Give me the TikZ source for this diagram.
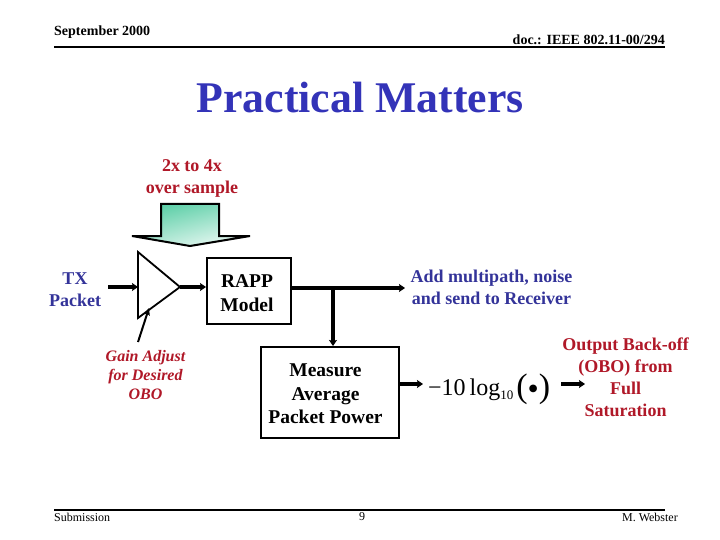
\documentclass[tikz,border=0pt]{standalone}
\usepackage{fontspec}
\setmainfont{Liberation Serif}
\usetikzlibrary{arrows.meta,calc,shadings}
\definecolor{navytext}{RGB}{51,51,153}
\definecolor{titleblue}{RGB}{51,51,184}
\definecolor{redtext}{RGB}{176,24,40}
\definecolor{tealtop}{RGB}{70,200,155}
\tikzset{
  x=1pt,y=-1pt,
  lbl/.style={inner sep=0pt,align=center,font=\bfseries\fontsize{18}{22}\selectfont},
  boxnode/.style={draw=black,line width=2pt,fill=white,inner sep=0pt},
  boxtext/.style={inner sep=0pt,align=center,font=\bfseries\fontsize{19.5}{23.7}\selectfont,text=black},
  flow/.style={draw=black,line width=3.2pt,-{Stealth[length=6pt,width=8pt,inset=1pt]}},
  thinflow/.style={draw=black,line width=2pt,-{Stealth[length=7pt,width=6pt,inset=1pt]}},
  plainlbl/.style={inner sep=0pt,font=\fontsize{12}{14}\selectfont},
  headlbl/.style={inner sep=0pt,font=\bfseries\fontsize{14}{16}\selectfont},
  rulebar/.style={line width=2pt,draw=black},
}
\begin{document}
\begin{tikzpicture}
\useasboundingbox (0,0) rectangle (720,540);
% header and footer
\coordinate (hl) at (54,47); \coordinate (hr) at (665,47);
\coordinate (fl) at (54,510); \coordinate (fr) at (665,510);
\draw[rulebar] (hl) -- (hr);
\draw[rulebar] (fl) -- (fr);
\node[headlbl,anchor=west] (date) at (54,32) {September 2000};
\node[headlbl,anchor=east] (doc) at (665,40) {doc.: IEEE 802.11-00/294};
\node[plainlbl,anchor=west] (sub) at (54,517) {Submission};
\node[plainlbl] (page) at (362,517) {9};
\node[plainlbl,anchor=east] (auth) at (678,517) {M. Webster};
\node[inner sep=0pt,text=titleblue,font=\bfseries\fontsize{43.8}{50}\selectfont] (title) at (360,98) {Practical Matters};
% block arrow
\coordinate (a1) at (161,204); \coordinate (a2) at (219,204); \coordinate (a3) at (219,236);
\coordinate (a4) at (250,236); \coordinate (a5) at (190,246); \coordinate (a6) at (132,236); \coordinate (a7) at (161,236);
\shade[upper left=tealtop,upper right=tealtop!60!white,lower left=tealtop!45!white,lower right=white]
  (a1) -- (a2) -- (a3) -- (a4) -- (a5) -- (a6) -- (a7) -- cycle;
\draw[line width=2pt,black,line join=miter] (a1) -- (a2) -- (a3) -- (a4) -- (a5) -- (a6) -- (a7) -- cycle;
% triangle
\coordinate (t1) at (138,252); \coordinate (t2) at (138,318); \coordinate (t3) at (180,287);
\draw[line width=1.8pt,black,line join=miter,fill=white] (t1) -- (t2) -- (t3) -- cycle;
% boxes
\node[boxnode,minimum width=84pt,minimum height=66pt] (rapp) at (249,291) {};
\node[boxnode,minimum width=138pt,minimum height=91pt] (meas) at (330,392.5) {};
\node[boxtext] (rapptext) at (247,293) {RAPP\\Model};
\node[boxtext] (meastext) at (325.5,394) {Measure\\Average\\Packet Power};
% connectors
\coordinate (txs) at (108,287);
\coordinate (tin) at (138,287);
\coordinate (out) at (405,288);
\coordinate (jn) at (333,288);
\coordinate (gs) at (138,342);
\coordinate (gt) at (149,308);
\coordinate (l2) at (423,384);
\coordinate (o1) at (561,384);
\coordinate (o2) at (585,384);
\draw[flow] (txs) -- (tin);
\draw[flow] (t3) -- (rapp.west |- t3);
\draw[flow] (rapp.east |- out) -- (out);
\draw[flow] (jn) -- (jn |- meas.north);
\draw[flow] (meas.east |- l2) -- (l2);
\draw[flow] (o1) -- (o2);
\draw[thinflow] (gs) -- (gt);
% labels
\node[lbl,text=redtext] (over) at (192,178) {2x to 4x\\over sample};
\node[lbl,text=navytext] (tx) at (75,290) {TX\\Packet};
\node[lbl,text=redtext,font=\bfseries\itshape\fontsize{16}{19}\selectfont] (gain) at (145.5,375) {Gain Adjust\\for Desired\\OBO};
\node[lbl,text=navytext] (add) at (491.5,287) {Add multipath, noise\\and send to Receiver};
\node[lbl,text=redtext] (obo) at (625.5,377.5) {Output Back-off\\(OBO) from\\Full\\Saturation};
\node[inner sep=0pt,anchor=base west,font=\fontsize{24}{28}\selectfont] (logn) at (428,395) {−10\,log\raisebox{-4pt}{\fontsize{13}{15}\selectfont 10}\hspace{3pt}\raisebox{-2pt}{\fontsize{34}{36}\selectfont (}\raisebox{-4pt}{\fontsize{32}{36}\selectfont •}\raisebox{-2pt}{\fontsize{34}{36}\selectfont )}};
\end{tikzpicture}
\end{document}
